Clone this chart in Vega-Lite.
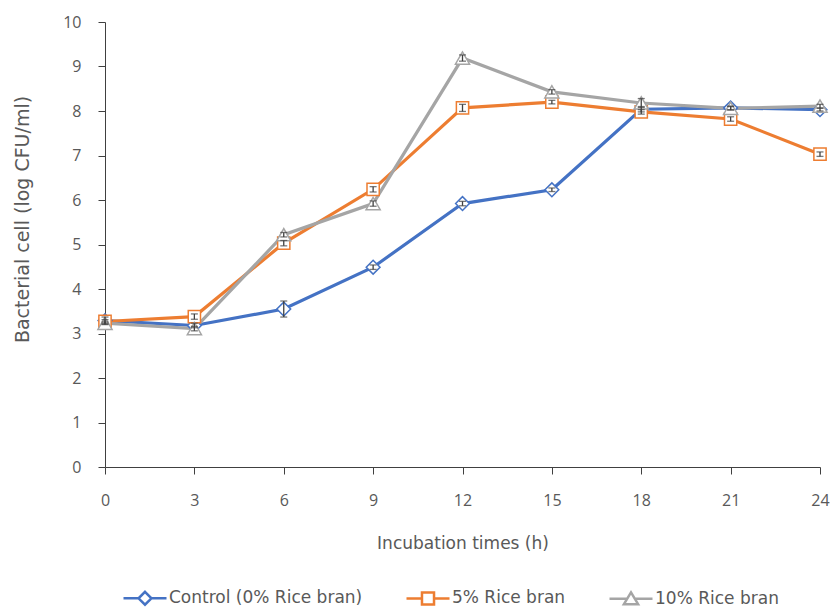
{
  "$schema": "https://vega.github.io/schema/vega-lite/v6.json",
  "width": 715,
  "height": 445,
  "autosize": {"type": "none"},
  "padding": {"left": 105, "top": 22, "right": 14, "bottom": 142},
  "background": "white",
  "config": {
    "view": {"stroke": null},
    "font": "Open Sans",
    "axis": {
      "grid": false,
      "domainColor": "#404040",
      "tickColor": "#404040",
      "labelColor": "#595959",
      "titleColor": "#595959",
      "labelFont": "Open Sans",
      "titleFont": "DejaVu Sans",
      "labelFontSize": 16,
      "titleFontSize": 17,
      "titleFontWeight": "normal",
      "tickSize": 7,
      "labelFlush": false
    }
  },
  "data": {
    "values": [
      {"t": 0, "s": "Control (0% Rice bran)", "v": 3.29, "sd": 0.08},
      {"t": 3, "s": "Control (0% Rice bran)", "v": 3.18, "sd": 0.05},
      {"t": 6, "s": "Control (0% Rice bran)", "v": 3.55, "sd": 0.18},
      {"t": 9, "s": "Control (0% Rice bran)", "v": 4.49, "sd": 0.05},
      {"t": 12, "s": "Control (0% Rice bran)", "v": 5.92, "sd": 0.05},
      {"t": 15, "s": "Control (0% Rice bran)", "v": 6.23, "sd": 0.04},
      {"t": 18, "s": "Control (0% Rice bran)", "v": 8.04, "sd": 0.06},
      {"t": 21, "s": "Control (0% Rice bran)", "v": 8.07, "sd": 0.04},
      {"t": 24, "s": "Control (0% Rice bran)", "v": 8.03, "sd": 0.03},
      {"t": 0, "s": "5% Rice bran", "v": 3.27, "sd": 0.04},
      {"t": 3, "s": "5% Rice bran", "v": 3.38, "sd": 0.06},
      {"t": 6, "s": "5% Rice bran", "v": 5.03, "sd": 0.06},
      {"t": 9, "s": "5% Rice bran", "v": 6.24, "sd": 0.06},
      {"t": 12, "s": "5% Rice bran", "v": 8.07, "sd": 0.08},
      {"t": 15, "s": "5% Rice bran", "v": 8.2, "sd": 0.04},
      {"t": 18, "s": "5% Rice bran", "v": 7.98, "sd": 0.05},
      {"t": 21, "s": "5% Rice bran", "v": 7.82, "sd": 0.05},
      {"t": 24, "s": "5% Rice bran", "v": 7.03, "sd": 0.05},
      {"t": 0, "s": "10% Rice bran", "v": 3.23, "sd": 0.03},
      {"t": 3, "s": "10% Rice bran", "v": 3.11, "sd": 0.05},
      {"t": 6, "s": "10% Rice bran", "v": 5.22, "sd": 0.05},
      {"t": 9, "s": "10% Rice bran", "v": 5.92, "sd": 0.06},
      {"t": 12, "s": "10% Rice bran", "v": 9.19, "sd": 0.07},
      {"t": 15, "s": "10% Rice bran", "v": 8.43, "sd": 0.05},
      {"t": 18, "s": "10% Rice bran", "v": 8.18, "sd": 0.1},
      {"t": 21, "s": "10% Rice bran", "v": 8.06, "sd": 0.04},
      {"t": 24, "s": "10% Rice bran", "v": 8.11, "sd": 0.04}
    ]
  },
  "encoding": {
    "x": {
      "field": "t",
      "type": "quantitative",
      "scale": {"domain": [0, 24], "nice": false},
      "axis": {
        "values": [0, 3, 6, 9, 12, 15, 18, 21, 24],
        "title": "Incubation times (h)",
        "labelPadding": 18,
        "titlePadding": 27
      }
    },
    "y": {
      "field": "v",
      "type": "quantitative",
      "scale": {"domain": [0, 10], "nice": false},
      "axis": {
        "values": [0, 1, 2, 3, 4, 5, 6, 7, 8, 9, 10],
        "title": "Bacterial cell (log CFU/ml)",
        "titleFontSize": 19,
        "titleY": 197,
        "labelPadding": 17,
        "titlePadding": 30
      }
    },
    "color": {
      "field": "s",
      "type": "nominal",
      "scale": {
        "domain": ["Control (0% Rice bran)", "5% Rice bran", "10% Rice bran"],
        "range": ["#4472C4", "#ED7D31", "#A5A5A5"]
      },
      "legend": {
        "orient": "none",
        "legendX": 17,
        "legendY": 553,
        "direction": "horizontal",
        "title": null,
        "padding": 0,
        "symbolSize": 1849,
        "symbolStrokeWidth": 2.5,
        "labelFont": "DejaVu Sans",
        "labelFontSize": 17,
        "labelColor": "#595959",
        "labelLimit": 400,
        "labelOffset": 1,
        "columnPadding": 38,
        "encode": {
          "symbols": {
            "update": {
              "shape": {"signal": "datum.value === 'Control (0% Rice bran)' ? 'M-1,0H-0.3M0.3,0H1M0,-0.3L0.3,0L0,0.3L-0.3,0Z' : datum.value === '5% Rice bran' ? 'M-1,0H-0.28M0.28,0H1M-0.28,-0.28H0.28V0.28H-0.28Z' : 'M-1,0H-0.17M0.17,0H1M0,-0.3L0.33,0.25L-0.33,0.25Z'"},
              "fill": {"value": "white"},
              "size": {"value": 1849},
              "strokeWidth": {"value": 2.5},
              "opacity": {"value": 1}
            }
          }
        }
      }
    }
  },
  "layer": [
    {
      "mark": {"type": "line", "strokeWidth": 3.2}
    },
    {
      "transform": [{"filter": "datum.s === 'Control (0% Rice bran)'"}],
      "mark": {"type": "point", "shape": "diamond", "filled": false, "fill": "white", "strokeWidth": 1.5, "opacity": 1, "size": 190}
    },
    {
      "transform": [{"filter": "datum.s === '5% Rice bran'"}],
      "mark": {"type": "point", "shape": "square", "filled": false, "fill": "white", "strokeWidth": 1.5, "opacity": 1, "size": 150}
    },
    {
      "transform": [{"filter": "datum.s === '10% Rice bran'"}],
      "mark": {"type": "point", "shape": "triangle-up", "filled": false, "fill": "white", "strokeWidth": 1.5, "opacity": 1, "size": 200}
    },
    {
      "mark": {"type": "errorbar", "color": "#404040", "thickness": 1.3, "ticks": {"size": 7}},
      "encoding": {
        "color": {"value": "#404040"},
        "y": {"field": "v", "type": "quantitative"},
        "yError": {"field": "sd"}
      }
    }
  ]
}
